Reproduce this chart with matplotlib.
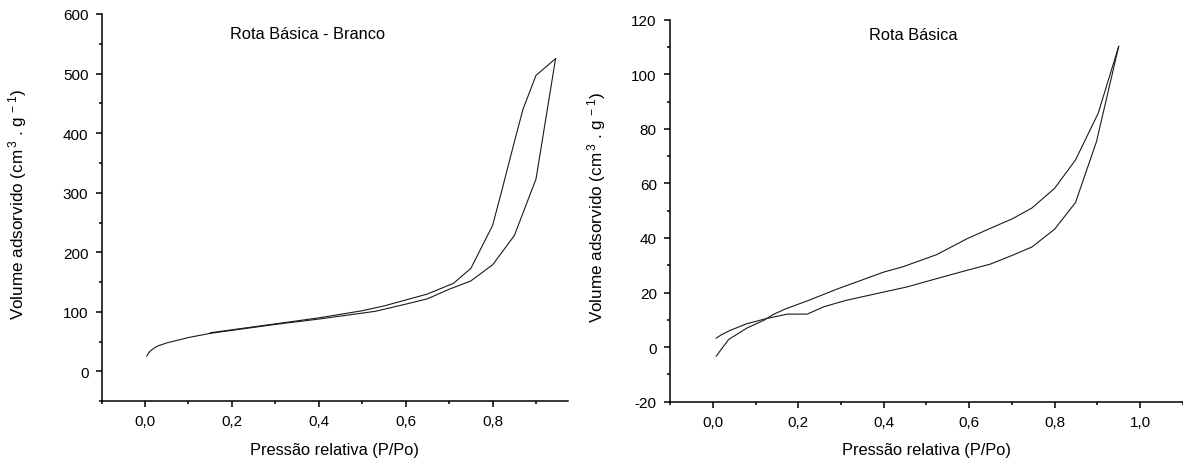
import matplotlib.pyplot as plt
from matplotlib.ticker import MultipleLocator, FuncFormatter

plt.rcParams['font.family'] = ['Liberation Sans', 'DejaVu Sans']
plt.rcParams['mathtext.fontset'] = 'custom'
plt.rcParams['mathtext.rm'] = 'Liberation Sans'
plt.rcParams['mathtext.default'] = 'regular'

# Rota Básica - Branco
branco_ads_x = [0.004, 0.01, 0.02, 0.03, 0.05, 0.1, 0.15, 0.2, 0.3, 0.4, 0.5, 0.53,
                0.6, 0.65, 0.7, 0.75, 0.8, 0.85, 0.9, 0.945]
branco_ads_y = [26, 33, 39, 43, 48, 57, 64, 69, 79, 88, 98, 101,
                113, 122, 138, 152, 179, 228, 323, 525]
branco_des_x = [0.945, 0.9, 0.87, 0.85, 0.82, 0.8, 0.75, 0.71, 0.65, 0.6, 0.55, 0.5,
                0.4, 0.3, 0.2, 0.15]
branco_des_y = [525, 497, 440, 385, 300, 245, 173, 148, 130, 120, 110, 102,
                90, 80, 70, 65]

# Rota Básica
basica_a_x = [0.008, 0.037, 0.08, 0.119, 0.142, 0.17, 0.222, 0.293, 0.4, 0.444, 0.524,
              0.596, 0.649, 0.702, 0.747, 0.8, 0.849, 0.902, 0.95]
basica_a_y = [-3.3, 2.8, 7.0, 9.8, 12.0, 14.0, 17.0, 21.4, 27.5, 29.4, 33.9,
              39.8, 43.5, 47.1, 51.0, 58.2, 68.6, 85.7, 110.2]
basica_b_x = [0.008, 0.02, 0.04, 0.08, 0.124, 0.174, 0.221, 0.26, 0.311, 0.4, 0.453,
              0.524, 0.596, 0.649, 0.702, 0.747, 0.8, 0.849, 0.898, 0.95]
basica_b_y = [3.3, 4.5, 6.1, 8.6, 10.4, 12.1, 12.1, 14.8, 17.1, 20.2, 22.0,
              25.1, 28.2, 30.4, 33.7, 36.7, 43.2, 53.0, 75.3, 110.2]

line_kw = dict(color='#1a1a1a', lw=0.8)
xfmt = FuncFormatter(lambda v, p: ('%.1f' % v).replace('.', ','))
yfmt = FuncFormatter(lambda v, p: '%d' % round(v))
ylabel = 'Volume adsorvido (cm$^{\\,3}$ . g$^{\\,-1}$)'
xlabel = 'Pressão relativa (P/Po)'

fig = plt.figure(figsize=(11.83, 4.64), dpi=100)
ax1 = fig.add_axes([0.0859, 0.1330, 0.3940, 0.8347])
ax2 = fig.add_axes([0.5664, 0.1321, 0.4334, 0.8233])


def style(ax, xmax, ymin, ymax, ymaj, ymin_step):
    ax.set_xlim(-0.1, xmax)
    ax.set_ylim(ymin, ymax)
    for s in ['top', 'right']:
        ax.spines[s].set_visible(False)
    for s in ['left', 'bottom']:
        ax.spines[s].set_linewidth(1.1)
    ax.xaxis.set_major_locator(MultipleLocator(0.2))
    ax.xaxis.set_minor_locator(MultipleLocator(0.1))
    ax.yaxis.set_major_locator(MultipleLocator(ymaj))
    ax.yaxis.set_minor_locator(MultipleLocator(ymin_step))
    ax.xaxis.set_major_formatter(xfmt)
    ax.yaxis.set_major_formatter(yfmt)
    ax.tick_params(which='major', direction='out', length=4.5, width=1.1,
                   labelsize=11, pad=5)
    ax.tick_params(which='minor', direction='out', length=2.5, width=1.1)
    ax.set_xlabel(xlabel, fontsize=11.8)
    ax.set_ylabel(ylabel, fontsize=12.3)


ax1.plot(branco_ads_x, branco_ads_y, **line_kw)
ax1.plot(branco_des_x, branco_des_y, **line_kw)
style(ax1, 0.973, -50, 600, 100, 50)
ax1.text(0.442, 0.95, 'Rota Básica - Branco', transform=ax1.transAxes,
         ha='center', va='center', fontsize=11.8)
ax1.yaxis.set_label_coords(-0.155, 0.51)
ax1.xaxis.set_label_coords(0.5, -0.105)

ax2.plot(basica_a_x, basica_a_y, **line_kw)
ax2.plot(basica_b_x, basica_b_y, **line_kw)
style(ax2, 1.1, -20, 120, 20, 10)
ax2.text(0.474, 0.96, 'Rota Básica', transform=ax2.transAxes,
         ha='center', va='center', fontsize=11.8)
ax2.yaxis.set_label_coords(-0.122, 0.51)
ax2.xaxis.set_label_coords(0.5, -0.106)

fig.savefig('out.png', dpi=100)
